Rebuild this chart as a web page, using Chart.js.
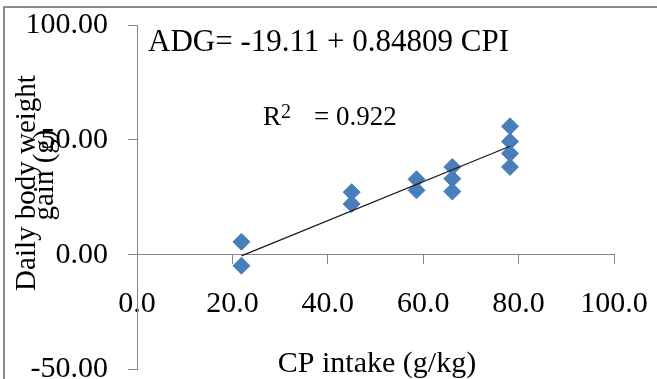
<!DOCTYPE html>
<html>
<head>
<meta charset="utf-8">
<script src="https://cdn.jsdelivr.net/npm/chart.js@4.4.1/dist/chart.umd.min.js"></script>
<style>
    html, body { margin: 0; padding: 0; background: #fff; }
    #wrap { width: 657px; height: 379px; position: relative; }
</style>
</head>
<body>
<div id="wrap"><canvas id="chart" width="657" height="379"></canvas></div>
<script>
// Data
const cpIntake = [21.9, 21.9, 45.0, 45.0, 58.6, 58.6, 66.1, 66.1, 66.1, 78.2, 78.2, 78.2, 78.2];
const dailyGain = [5.6, -4.8, 27.2, 22.1, 32.8, 28.0, 38.2, 33.1, 27.5, 55.9, 49.3, 44.1, 38.2];

// Trend line end points (ADG = -19.11 + 0.84809 CPI)
const trendX = [21.9, 78.2];
const trendY = [-0.5, 47.2];

const xTitle = 'CP intake (g/kg)';
const yTitleLines = ['Daily body weight', 'gain (g)'];
const equationText = 'ADG= -19.11 + 0.84809 CPI';
const rSquared = '0.922';

const serif = 'Liberation Serif';
const axisGray = '#868686';
const pointBlue = '#4a7ebb';

// Draws frame, axis titles and the equation labels
const annotations = {
    id: 'annotations',
    beforeDraw(chart) {
        const ctx = chart.ctx;
        ctx.save();
        ctx.fillStyle = '#8c8c8c';
        ctx.fillRect(3, 6, 654, 2);
        ctx.fillRect(3, 6, 2, 373);
        ctx.restore();
    },
    afterDraw(chart) {
        const ctx = chart.ctx;
        ctx.save();
        ctx.fillStyle = '#000';
        ctx.textBaseline = 'alphabetic';

        // equation
        ctx.font = `31px "${serif}"`;
        ctx.textAlign = 'left';
        ctx.fillText(equationText, 148, 51);

        // R squared
        ctx.font = `27px "${serif}"`;
        ctx.fillText('R', 263, 125);
        const rw = ctx.measureText('R').width;
        ctx.font = `20px "${serif}"`;
        ctx.fillText('2', 263 + rw, 118);
        ctx.font = `27px "${serif}"`;
        ctx.fillText('= ' + rSquared, 314, 125);

        // x title
        ctx.font = `30px "${serif}"`;
        ctx.textAlign = 'center';
        ctx.fillText(xTitle, 377, 372);

        // y title
        ctx.font = `29px "${serif}"`;
        ctx.translate(35, 183);
        ctx.rotate(-Math.PI / 2);
        ctx.fillText(yTitleLines[0], 0, 0);
        ctx.fillText(yTitleLines[1], 8, 18);
        ctx.restore();
    }
};

// keep the tick labels from shrinking the plot area
function noScalePadding(scale) {
    scale.paddingTop = 0;
    scale.paddingBottom = 0;
    scale.paddingLeft = 0;
    scale.paddingRight = 0;
}

function init() {
    const ctx = document.getElementById('chart').getContext('2d');

    const points = cpIntake.map((x, i) => ({ x: x, y: dailyGain[i] }));
    const trend = trendX.map((x, i) => ({ x: x, y: trendY[i] }));

    new Chart(ctx, {
        type: 'scatter',
        data: {
            datasets: [
                {
                    type: 'line',
                    data: trend,
                    borderColor: '#1a1a1a',
                    borderWidth: 1.3,
                    pointRadius: 0,
                    fill: false,
                    order: 0
                },
                {
                    data: points,
                    pointStyle: 'rectRot',
                    pointRadius: 8.5,
                    backgroundColor: pointBlue,
                    borderColor: pointBlue,
                    borderWidth: 1,
                    order: 1
                }
            ]
        },
        options: {
            responsive: false,
            animation: false,
            layout: { padding: { left: 0, top: 25, right: 43, bottom: 0 } },
            plugins: {
                legend: { display: false },
                tooltip: { enabled: false }
            },
            scales: {
                x: {
                    type: 'linear',
                    position: { y: 0 },
                    min: 0,
                    max: 100,
                    grid: {
                        display: true,
                        drawOnChartArea: false,
                        drawTicks: true,
                        tickLength: 9,
                        color: axisGray
                    },
                    border: { display: true, color: axisGray, width: 1 },
                    ticks: {
                        stepSize: 20,
                        padding: 22,
                        maxRotation: 0,
                        color: '#000',
                        font: { family: serif, size: 30 },
                        callback: v => v.toFixed(1)
                    },
                    afterFit(scale) {
                        scale.height = 14;
                        noScalePadding(scale);
                    }
                },
                y: {
                    type: 'linear',
                    position: 'left',
                    min: -50,
                    max: 100,
                    grid: {
                        display: true,
                        drawOnChartArea: false,
                        drawTicks: true,
                        tickLength: 9,
                        color: axisGray
                    },
                    border: { display: true, color: axisGray, width: 1 },
                    ticks: {
                        stepSize: 50,
                        padding: 20,
                        color: '#000',
                        font: { family: serif, size: 30 },
                        callback: v => v.toFixed(2)
                    },
                    afterFit(scale) {
                        scale.width = 137;
                        noScalePadding(scale);
                    }
                }
            }
        },
        plugins: [annotations]
    });
}

document.addEventListener('DOMContentLoaded', init);
</script>
</body>
</html>
